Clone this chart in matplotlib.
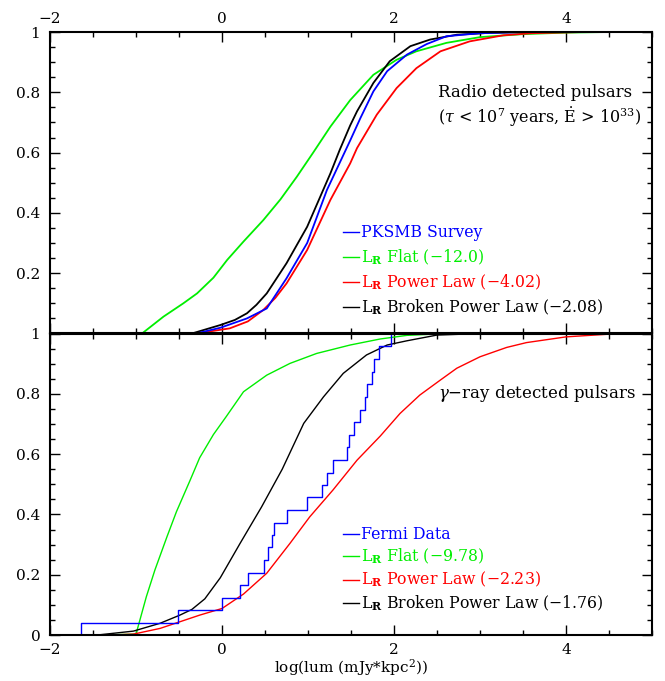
import numpy as np
import matplotlib
matplotlib.use("Agg")
import matplotlib.pyplot as plt
from matplotlib.ticker import MultipleLocator, FuncFormatter

plt.rcParams['font.family'] = ['DejaVu Serif']
plt.rcParams['mathtext.fontset'] = 'dejavuserif'

# ---- top panel: radio detected pulsars (cumulative fractions) ----
pksmb_x = [-0.30, -0.02, 0.29, 0.52, 0.75, 0.99, 1.22, 1.49, 1.61, 1.76, 1.92, 2.15, 2.38, 2.61, 3.0, 3.5]
pksmb_y = [0.0, 0.019, 0.050, 0.083, 0.183, 0.300, 0.476, 0.640, 0.715, 0.803, 0.870, 0.925, 0.960, 0.986, 0.996, 1.0]

flat_top_x = [-0.93, -0.68, -0.45, -0.29, -0.10, 0.06, 0.25, 0.48, 0.68, 0.87, 1.06, 1.26, 1.49, 1.76, 2.03, 2.26, 2.61, 3.0, 3.5, 4.0, 4.5]
flat_top_y = [0.0, 0.056, 0.100, 0.133, 0.185, 0.244, 0.305, 0.376, 0.445, 0.520, 0.600, 0.686, 0.774, 0.858, 0.908, 0.936, 0.964, 0.983, 0.993, 0.998, 1.0]

pow_top_x = [-0.30, 0.09, 0.30, 0.48, 0.62, 0.75, 0.99, 1.26, 1.49, 1.57, 1.80, 2.03, 2.26, 2.54, 2.88, 3.27, 3.6, 4.2]
pow_top_y = [0.0, 0.017, 0.040, 0.078, 0.118, 0.166, 0.277, 0.443, 0.564, 0.615, 0.726, 0.814, 0.880, 0.936, 0.969, 0.989, 0.996, 1.0]

brk_top_x = [-0.35, -0.02, 0.15, 0.29, 0.40, 0.52, 0.75, 0.99, 1.26, 1.37, 1.49, 1.57, 1.76, 1.95, 2.19, 2.42, 2.73, 3.1, 3.6]
brk_top_y = [0.0, 0.028, 0.045, 0.067, 0.095, 0.133, 0.233, 0.354, 0.531, 0.610, 0.690, 0.737, 0.831, 0.903, 0.953, 0.975, 0.991, 0.997, 1.0]

# ---- bottom panel: gamma-ray detected pulsars ----
fermi_x = [-1.64, -0.51, 0.005, 0.213, 0.30, 0.49, 0.53, 0.585, 0.605, 0.76, 0.99, 1.16,
           1.225, 1.287, 1.45, 1.473, 1.535, 1.605, 1.667, 1.68, 1.748, 1.767, 1.822, 1.965]
fermi_y = [0.041, 0.083, 0.124, 0.166, 0.207, 0.249, 0.291, 0.332, 0.373, 0.415, 0.459, 0.497,
           0.538, 0.582, 0.624, 0.665, 0.707, 0.748, 0.790, 0.832, 0.873, 0.917, 0.958, 1.0]

flat_bot_x = [-1.45, -1.00, -0.88, -0.78, -0.64, -0.53, -0.37, -0.26, -0.10, 0.05, 0.25, 0.52, 0.79, 1.10, 1.49, 1.84, 2.15, 2.6]
flat_bot_y = [0.0, 0.003, 0.127, 0.216, 0.326, 0.409, 0.514, 0.588, 0.665, 0.725, 0.807, 0.862, 0.901, 0.934, 0.962, 0.982, 0.994, 1.0]

pow_bot_x = [-1.30, -1.03, -0.72, -0.49, -0.26, 0.0, 0.25, 0.52, 0.79, 1.02, 1.29, 1.57, 1.84, 2.07, 2.30,
             2.54, 2.73, 3.0, 3.31, 3.54, 4.0, 4.5, 4.6]
pow_bot_y = [0.0, 0.003, 0.022, 0.044, 0.066, 0.088, 0.136, 0.205, 0.304, 0.392, 0.481, 0.580, 0.660, 0.735, 0.796,
             0.846, 0.885, 0.923, 0.954, 0.970, 0.989, 0.998, 1.0]

brk_bot_x = [-1.45, -1.03, -0.72, -0.49, -0.35, -0.20, -0.02, 0.21, 0.46, 0.70, 0.95, 1.18, 1.41, 1.68, 1.92, 2.15, 2.5, 3.0]
brk_bot_y = [0.0, 0.013, 0.039, 0.066, 0.085, 0.120, 0.190, 0.304, 0.425, 0.550, 0.702, 0.790, 0.868, 0.929, 0.962, 0.976, 0.995, 1.0]

top_labels = ["PKSMB Survey",
              r"L$_\mathbf{R}$ Flat (−12.0)",
              r"L$_\mathbf{R}$ Power Law (−4.02)",
              r"L$_\mathbf{R}$ Broken Power Law (−2.08)"]
bot_labels = ["Fermi Data",
              r"L$_\mathbf{R}$ Flat (−9.78)",
              r"L$_\mathbf{R}$ Power Law (−2.23)",
              r"L$_\mathbf{R}$ Broken Power Law (−1.76)"]
colors = ['#0000ff', '#00ee00', '#ff0000', 'black']

fig = plt.figure(figsize=(6.65, 6.81), dpi=100)
ax_top = fig.add_axes([0.0752, 0.5103, 0.9053, 0.4427])
ax_bot = fig.add_axes([0.0752, 0.0675, 0.9053, 0.4427])

lw = 1.3
ax_top.plot(flat_top_x, flat_top_y, color=colors[1], lw=lw)
ax_top.plot(pow_top_x, pow_top_y, color=colors[2], lw=lw)
ax_top.plot(brk_top_x, brk_top_y, color=colors[3], lw=lw)
ax_top.plot(pksmb_x, pksmb_y, color=colors[0], lw=lw)

ax_bot.plot(flat_bot_x, flat_bot_y, color=colors[1], lw=1.0)
ax_bot.plot(pow_bot_x, pow_bot_y, color=colors[2], lw=1.0)
ax_bot.plot(brk_bot_x, brk_bot_y, color=colors[3], lw=1.0)
ax_bot.step([fermi_x[0]] + fermi_x, [0.0] + fermi_y, where='post', color=colors[0], lw=1.0)


def fmt_top(v, pos):
    return '' if abs(v) < 1e-9 else f'{v:g}'


for ax in (ax_top, ax_bot):
    ax.set_xlim(-2, 5)
    ax.set_ylim(0, 1)
    ax.xaxis.set_major_locator(MultipleLocator(2))
    ax.xaxis.set_minor_locator(MultipleLocator(0.5))
    ax.yaxis.set_major_locator(MultipleLocator(0.2))
    ax.yaxis.set_minor_locator(MultipleLocator(0.05))
    ax.tick_params(which='both', direction='in', top=True, right=True, width=1.0,
                   labelsize=11, pad=7)
    ax.tick_params(which='major', length=7)
    ax.tick_params(which='minor', length=3.5)
    for sp in ax.spines.values():
        sp.set_linewidth(1.5)

ax_top.tick_params(labelbottom=False, labeltop=True)
ax_top.tick_params(axis='x', pad=4)
ax_bot.tick_params(axis='x', pad=6)
ax_top.yaxis.set_major_formatter(FuncFormatter(fmt_top))
ax_bot.yaxis.set_major_formatter(FuncFormatter(lambda v, p: f'{v:g}'))
ax_top.xaxis.set_major_formatter(FuncFormatter(lambda v, p: f'{v:g}'.replace('-', '−')))
ax_bot.xaxis.set_major_formatter(FuncFormatter(lambda v, p: f'{v:g}'.replace('-', '−')))

ax_bot.set_xlabel(r"log(lum (mJy*kpc$^2$))", fontsize=11, labelpad=0)

# annotations
ann_fs = 12
ax_top.text(0.645, 0.801, "Radio detected pulsars", transform=ax_top.transAxes,
            fontsize=ann_fs, ha='left', va='center')
ax_top.text(0.645, 0.718, r"($\tau$ < 10$^7$ years, $\dot{\mathrm{E}}$ > 10$^{33}$)",
            transform=ax_top.transAxes, fontsize=11.5, ha='left', va='center')
ax_bot.text(0.645, 0.802, r"$\gamma$−ray detected pulsars", transform=ax_bot.transAxes,
            fontsize=ann_fs, ha='left', va='center')

# hand-drawn legends
top_rows = [0.336, 0.253, 0.170, 0.087]
bot_rows = [0.335, 0.262, 0.184, 0.105]
for ax, labels, rows in ((ax_top, top_labels, top_rows), (ax_bot, bot_labels, bot_rows)):
    for lab, c, yy in zip(labels, colors, rows):
        ax.plot([0.487, 0.514], [yy, yy], color=c, lw=1.0, transform=ax.transAxes)
        ax.text(0.516, yy, lab, color=c, fontsize=11.3, ha='left', va='center',
                transform=ax.transAxes)

fig.savefig('out.png', dpi=100)
